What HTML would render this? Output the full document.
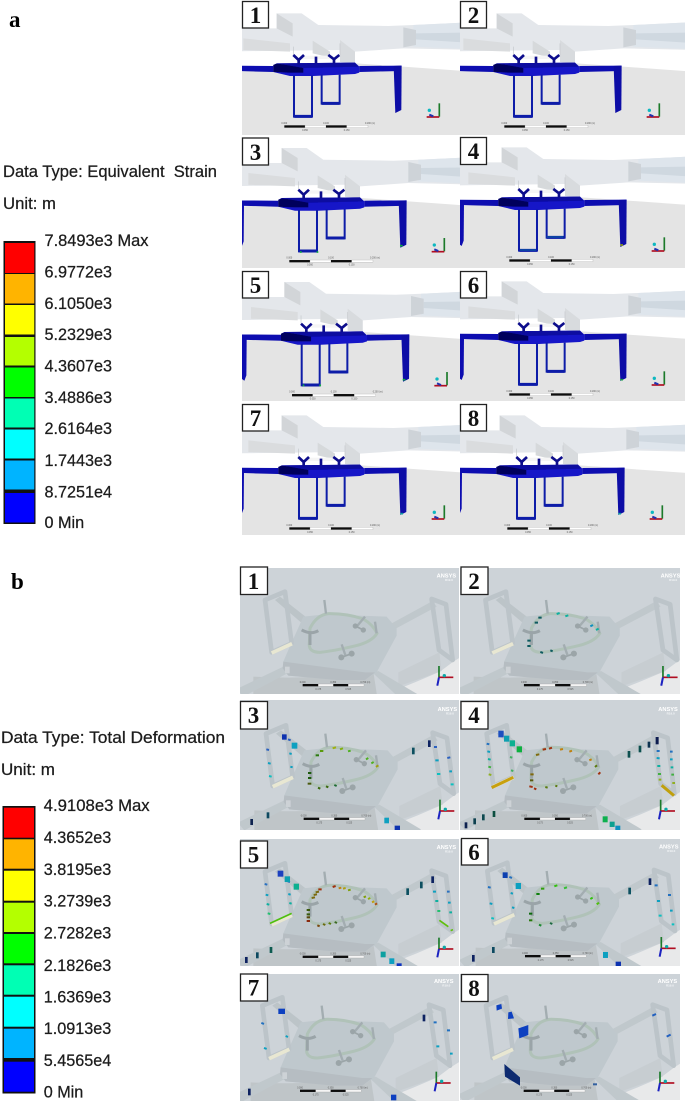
<!DOCTYPE html>
<html lang="en">
<head>
<meta charset="utf-8">
<title>Equivalent strain and total deformation panels</title>
<style>
html,body{margin:0;padding:0;background:#fff;}
svg{display:block;}
.lab{font-family:"Liberation Sans",sans-serif;font-size:16.2px;fill:#1c1c1c;stroke:#1c1c1c;stroke-width:.25px;}
.tag{font-family:"Liberation Serif",serif;font-size:23px;font-weight:bold;fill:#111;text-anchor:middle;}
.sec{font-family:"Liberation Serif",serif;font-size:23px;font-weight:bold;fill:#000;}
.sb{font-family:"Liberation Sans",sans-serif;font-size:7px;fill:#555;text-anchor:middle;}
.an{font-family:"Liberation Sans",sans-serif;font-size:17px;font-weight:bold;fill:#fff;}
.an2{font-family:"Liberation Sans",sans-serif;font-size:9px;font-weight:bold;fill:#f4f6f8;}
.box{fill:#fff;stroke:#222;stroke-width:1.3;}
.m{stroke-width:6;}
.m path{fill:none;}
.m rect,.m polygon{stroke:none;}
</style>
</head>
<body>
<svg id="figure" width="685" height="1103" viewBox="0 0 685 1103" xmlns="http://www.w3.org/2000/svg">
<defs>
<filter id="soft" x="-5%" y="-5%" width="110%" height="110%"><feGaussianBlur stdDeviation="1"/></filter>

<g id="a-base">
  <rect x="-100" y="-20" width="900" height="520" fill="#fff"/>
  <polygon points="-100,222 350,190 800,222 800,520 -100,520" fill="#e4e4e4"/>
  <polygon points="-100,85 110,85 110,40 185,40 235,75 445,78 520,75 800,62 800,152 490,145 345,155 345,190 300,186 300,150 -100,155" fill="#e4e7eb"/>
  <polygon points="110,40 158,70 158,110 110,85" fill="#d2d5d8"/>
  <polygon points="10,115 150,130 150,155 10,150" fill="#dadcde"/>
  <polygon points="218,122 270,155 270,172 218,160" fill="#d6d9db"/>
  <polygon points="300,120 345,155 345,190 300,186" fill="#d8dbde"/>
  <polygon points="520,75 800,62 800,152 520,140" fill="#dee5ec"/>
  <polygon points="528,100 800,96 800,136 528,118" fill="#cfd8e0"/>
  <polygon points="490,82 528,90 528,135 490,142" fill="#ced3d8"/>
  <path d="M160 140V165M300 130V165" stroke="#c4c8cb" stroke-width="2"/>
  <rect x="180" y="167" width="90" height="10" fill="#f5f5f5"/>
  <polygon points="-60,197 100,198 100,216 -60,212" fill="#0a0ab0"/>
  <polygon points="358,198 484,197 484,213 358,216" fill="#0a0ab0"/>
  <polygon points="461,198 485,197 484,330 466,339" fill="#0a0aa6"/>
  <polygon points="-18,198 -3,204 -4,320 -10,336 -18,330" fill="#0a0ab0"/>
  <polygon points="100,195 110,190 345,188 358,200 358,218 345,222 220,228 150,228 100,216" fill="#1212c8"/>
  <polygon points="100,195 110,191 190,200 190,218 150,218 100,216" fill="#05055c"/>
  <polygon points="110,190 345,188 355,200 190,204" fill="#0a0aa0"/>
  <path d="M162 226V350H216V226M245 224V311H299V224" fill="none" stroke="#0c1ca8" stroke-width="6"/>
  <path d="M163 349H216M245 310H299" fill="none" stroke="#0c1ca8" stroke-width="9"/>
  <path d="M160 165L176 180L192 165M176 180V193M265 165L282 178L298 165M282 178V190M228 170V190" fill="none" stroke="#10108c" stroke-width="8"/>
  <g>
    <rect x="133" y="376" width="62" height="7" fill="#111"/>
    <rect x="195" y="376" width="63" height="7" fill="#fff" stroke="#999" stroke-width=".8"/>
    <rect x="258" y="376" width="62" height="7" fill="#111"/>
    <rect x="320" y="376" width="64" height="7" fill="#fff" stroke="#999" stroke-width=".8"/>
    <text class="sb" x="133" y="372">0.000</text><text class="sb" x="258" y="372">0.100</text><text class="sb" x="390" y="372">0.200 (m)</text>
    <text class="sb" x="195" y="393">0.050</text><text class="sb" x="320" y="393">0.150</text>
  </g>
  <g>
    <path d="M598 350V310" stroke="#1a7a2a" stroke-width="5"/>
    <path d="M598 351H560" stroke="#b01020" stroke-width="5"/>
    <path d="M580 349L568 344" stroke="#2030b0" stroke-width="6"/>
    <circle cx="568" cy="331" r="5" fill="#10b8c0"/>
  </g>
</g>

<g id="b-base">
  <rect x="-60" y="-30" width="800" height="480" fill="#cdd3d8"/>
  <polygon points="720,240 640,290 600,320 530,350 480,370 480,450 720,450" fill="#e8e9ea"/>
  <polygon points="475,322 598,262 605,318 475,364" fill="#c7cdd1"/>
  <path d="M40 335Q230 345 400 320L420 450H40Z" fill="#bfc5c8"/>
  <polygon points="-10,372 130,305 142,325 10,395" fill="#c0c8cc"/>
  <polygon points="400,325 415,318 540,392 500,420" fill="#c0c8cc"/>
  <polygon points="105,105 120,95 203,160 190,178" fill="#bcc4c8"/>
  <polygon points="455,175 578,108 590,125 465,192" fill="#c0c8cc"/>
  <polygon points="190,155 255,148 440,155 470,190 470,212 410,322 375,345 290,345 145,332 128,310 130,290 145,255" fill="#bfc8cd"/>
  <polygon points="130,290 375,322 405,322 375,345 290,345 145,332 128,310" fill="#b6bdc2"/>
  <rect x="135" y="305" width="14" height="20" fill="#cdd2d6"/>
  <path d="M75 105L135 80L155 235L95 262Z" fill="none" stroke="#bcc4c9" stroke-width="14" stroke-linejoin="round"/>
  <path d="M95 264L156 236" stroke="#e8e7d2" stroke-width="11"/>
  <path d="M575 102L618 118L638 285L597 255Z" fill="none" stroke="#bcc4c9" stroke-width="14" stroke-linejoin="round"/>
  <path d="M210 190Q230 150 265 146Q320 145 370 162Q400 180 411 205Q395 232 340 244Q280 258 240 262Q205 262 208 235Z" fill="none" stroke="#b0c2b8" stroke-width="9"/>
  <path d="M253 105L258 146M405 170L410 205M375 155L350 185M305 238L316 270" fill="none" stroke="#a3adb1" stroke-width="7"/>
  <path d="M185 195Q212 210 235 197M210 203V240" fill="none" stroke="#9aa4a8" stroke-width="9"/>
  <g fill="#9ba5a8"><circle cx="346" cy="183" r="8"/><circle cx="370" cy="195" r="8"/><circle cx="304" cy="277" r="9"/><circle cx="335" cy="266" r="9"/></g>
  <path d="M346 183L370 195M304 277L335 266" stroke="#9ba5a8" stroke-width="5"/>
  <text class="an" x="590" y="37">ANSYS</text><text class="an2" x="615" y="48">R19.0</text>
  <g>
    <rect x="188" y="357" width="47" height="7" fill="#111"/>
    <rect x="235" y="357" width="45" height="7" fill="#f4f4f4" stroke="#999" stroke-width=".8"/>
    <rect x="280" y="357" width="45" height="7" fill="#111"/>
    <rect x="325" y="357" width="47" height="7" fill="#f4f4f4" stroke="#999" stroke-width=".8"/>
    <text class="sb" x="188" y="354">0.000</text><text class="sb" x="280" y="354">0.350</text><text class="sb" x="376" y="354">0.700 (m)</text>
    <text class="sb" x="235" y="375">0.175</text><text class="sb" x="325" y="375">0.525</text>
  </g>
  <g>
    <path d="M597 337V303" stroke="#1a7a2a" stroke-width="5"/>
    <path d="M597 337H640" stroke="#b01020" stroke-width="5"/>
    <path d="M597 337L592 362" stroke="#1a20c0" stroke-width="6"/>
    <circle cx="613" cy="332" r="5" fill="#10a8a8"/>
  </g>
</g>
</defs>

<rect width="685" height="1103" fill="#fff"/>

<!-- Section a -->
<text class="sec" x="9" y="27">a</text>
<text class="lab" x="3" y="177" textLength="214" lengthAdjust="spacingAndGlyphs">Data Type: Equivalent&#160;&#160;Strain</text>
<text class="lab" x="3" y="209" textLength="53" lengthAdjust="spacingAndGlyphs">Unit: m</text>
<g>
  <rect x="3.5" y="241" width="32" height="283" fill="#111"/>
  <rect x="5" y="243" width="29.3" height="30" fill="#ff0000"/>
  <rect x="5" y="274" width="29.3" height="29.5" fill="#ffb400"/>
  <rect x="5" y="305" width="29.3" height="29.5" fill="#ffff00"/>
  <rect x="5" y="337" width="29.3" height="28.5" fill="#b4ff00"/>
  <rect x="5" y="367.5" width="29.3" height="29.5" fill="#00ff00"/>
  <rect x="5" y="398.5" width="29.3" height="29" fill="#00ffb4"/>
  <rect x="5" y="429.5" width="29.3" height="29" fill="#00ffff"/>
  <rect x="5" y="460.5" width="29.3" height="29" fill="#00b4ff"/>
  <rect x="5" y="493" width="29.3" height="29.5" fill="#0000ff"/>
  <g>
    <text class="lab" x="44.5" y="246" textLength="104" lengthAdjust="spacingAndGlyphs">7.8493e3 Max</text>
    <text class="lab" x="44.5" y="277.5">6.9772e3</text>
    <text class="lab" x="44.5" y="309">6.1050e3</text>
    <text class="lab" x="44.5" y="340">5.2329e3</text>
    <text class="lab" x="44.5" y="371.5">4.3607e3</text>
    <text class="lab" x="44.5" y="403">3.4886e3</text>
    <text class="lab" x="44.5" y="434">2.6164e3</text>
    <text class="lab" x="44.5" y="466">1.7443e3</text>
    <text class="lab" x="44.5" y="497.5">8.7251e4</text>
    <text class="lab" x="44.5" y="528">0 Min</text>
  </g>
</g>

<g>
  <svg x="242" y="0" width="218" height="135"><g transform="translate(-2,0) scale(.3333)" filter="url(#soft)"><use href="#a-base"/></g></svg>
  <svg x="460" y="0" width="225" height="135"><g transform="translate(0,0) scale(.3333)" filter="url(#soft)"><use href="#a-base"/></g></svg>
  <svg x="242" y="137" width="218" height="131"><g transform="translate(3,-2.3) scale(.3333)" filter="url(#soft)"><use href="#a-base"/><path d="M465 333h8M165 352h5M215 352h5" stroke="#10b040" stroke-width="5"/></g></svg>
  <svg x="460" y="137" width="225" height="131"><g transform="translate(5,-3) scale(.3333)" filter="url(#soft)"><use href="#a-base"/><path d="M466 333h8" stroke="#90a010" stroke-width="5"/><path d="M165 348h48M245 309h50" stroke="#1068a0" stroke-width="3"/></g></svg>
  <svg x="242" y="270" width="218" height="131"><g transform="translate(5.7,-1.3) scale(.3333)" filter="url(#soft)"><use href="#a-base"/><path d="M465 333h8M165 350h5M215 350h5" stroke="#10b040" stroke-width="5"/></g></svg>
  <svg x="460" y="270" width="225" height="131"><g transform="translate(5,-2) scale(.3333)" filter="url(#soft)"><use href="#a-base"/><path d="M466 335h8" stroke="#10a040" stroke-width="5"/></g></svg>
  <svg x="242" y="403" width="218" height="132"><g transform="translate(3,-1) scale(.3333)" filter="url(#soft)"><use href="#a-base"/><path d="M466 335h8" stroke="#10a0a0" stroke-width="5"/></g></svg>
  <svg x="460" y="403" width="225" height="132"><g transform="translate(3,-1) scale(.3333)" filter="url(#soft)"><use href="#a-base"/><path d="M466 335h8" stroke="#10a0a0" stroke-width="5"/></g></svg>
</g>

<!-- Section b -->
<text class="sec" x="11" y="589">b</text>
<text class="lab" x="1" y="743" textLength="224" lengthAdjust="spacingAndGlyphs">Data Type: Total Deformation</text>
<text class="lab" x="1" y="775" textLength="54" lengthAdjust="spacingAndGlyphs">Unit: m</text>
<g>
  <rect x="2.5" y="806" width="33" height="287.5" fill="#111"/>
  <rect x="4" y="807.7" width="30" height="30" fill="#ff0000"/>
  <rect x="4" y="839.3" width="30" height="29.4" fill="#ffb400"/>
  <rect x="4" y="870.7" width="30" height="30" fill="#ffff00"/>
  <rect x="4" y="902.7" width="30" height="29.3" fill="#b4ff00"/>
  <rect x="4" y="934" width="30" height="29.3" fill="#00ff00"/>
  <rect x="4" y="965.3" width="30" height="29.4" fill="#00ffb4"/>
  <rect x="4" y="996.7" width="30" height="30" fill="#00ffff"/>
  <rect x="4" y="1028.7" width="30" height="29.3" fill="#00b4ff"/>
  <rect x="4" y="1061.7" width="30" height="30" fill="#0000ff"/>
  <g>
    <text class="lab" x="43.7" y="811" textLength="106" lengthAdjust="spacingAndGlyphs">4.9108e3 Max</text>
    <text class="lab" x="43.7" y="843">4.3652e3</text>
    <text class="lab" x="43.7" y="875">3.8195e3</text>
    <text class="lab" x="43.7" y="906.5">3.2739e3</text>
    <text class="lab" x="43.7" y="938.5">2.7282e3</text>
    <text class="lab" x="43.7" y="971">2.1826e3</text>
    <text class="lab" x="43.7" y="1002.5">1.6369e3</text>
    <text class="lab" x="43.7" y="1034">1.0913e3</text>
    <text class="lab" x="43.7" y="1066">5.4565e4</text>
    <text class="lab" x="43.7" y="1097.5">0 Min</text>
  </g>
</g>

<g>
  <svg x="240" y="568" width="219" height="126"><g transform="translate(0,-3) scale(.3333)" filter="url(#soft)"><use href="#b-base"/></g></svg>

  <svg x="460" y="568" width="220" height="126"><g transform="translate(0,-3) scale(.3333)" filter="url(#soft)"><use href="#b-base" transform="scale(1.02,1)"/>
    <g class="m">
      <path stroke="#0a5a60" d="M235 158h10M224 173h10M202 227h10M202 243h10M241 261l8 3M271 256l7 3"/>
      <path stroke="#10b0a0" d="M290 147l9-3M316 154l9-3M408 195l8-4"/>
      <path stroke="#1090c0" d="M391 184l8-4"/>
    </g></g></svg>

  <svg x="240" y="700" width="219" height="130"><g transform="translate(0,-3) scale(.3333)" filter="url(#soft)"><use href="#b-base" x="3" y="5"/>
    <g class="m">
      <path stroke="#5a9a10" d="M240 162h10"/><path stroke="#2a7a10" d="M227 175h10"/><path stroke="#a0b010" d="M278 154l10-3"/><path stroke="#80b010" d="M300 157l9-3"/><path stroke="#50b020" d="M324 163l8-2M378 187l7-4M394 199l7-4"/><path stroke="#a0a010" d="M408 210l7-5"/>
      <path stroke="#1a5a10" d="M204 228h10M204 243h10"/><path stroke="#4a5a10" d="M203 260h11"/><path stroke="#3a6a10" d="M234 272l7 3M258 268l7 3"/><path stroke="#1a6a30" d="M283 264l7 3"/>
      <path stroke="#2a60c0" d="M79 157l8 2M144 127l8 3M582 150h9M622 183l9-2"/><path stroke="#10a0c0" d="M84 198l8 2M148 169l7 2M151 209l7 2M586 190h10M628 223h8"/><path stroke="#10c0c0" d="M87 237l8 2M591 231h10M632 262h9"/>
      <rect x="126" y="112" width="14" height="16" fill="#0a30b0"/><rect x="155" y="137" width="17" height="18" fill="#10a0c0"/>
      <rect x="516" y="152" width="8" height="20" fill="#0a5060"/><rect x="564" y="130" width="8" height="20" fill="#0a2060"/><rect x="31" y="366" width="8" height="18" fill="#0a2050"/><rect x="80" y="346" width="8" height="18" fill="#0a4a60"/><rect x="433" y="362" width="14" height="17" fill="#10a0c0"/><rect x="464" y="386" width="16" height="14" fill="#0a30b0"/>
    </g></g></svg>

  <svg x="460" y="700" width="220" height="130"><g transform="translate(0,-3) scale(.3333)" filter="url(#soft)"><use href="#b-base" x="5" y="5"/>
    <g class="m">
      <path stroke="#c8a010" d="M95 272L160 241" stroke-width="9"/><path stroke="#c0a010" d="M605 265L642 296" stroke-width="9"/>
      <path stroke="#a03010" d="M248 158l10-2M267 155l9-3M415 232l6-6"/><path stroke="#c08010" d="M300 158l9-2M328 164l8-3M388 190l7-3"/><path stroke="#806a10" d="M228 174l10-2M211 232h10"/><path stroke="#5a5a10" d="M210 250h10"/><path stroke="#a03010" d="M208 268l10 2M222 274l7 3"/><path stroke="#5a7a10" d="M256 270l7 2M286 266l6 2M405 210l6-5"/>
      <path stroke="#2070c0" d="M80 140l8 2M590 162h9M630 164h8"/><path stroke="#10a0c0" d="M82 163l8 2M590 183l9 1M630 187h8"/><path stroke="#10b0a0" d="M84 186l8 2M592 207h9M632 211h8"/><path stroke="#40b040" d="M85 209l8 2M594 231h9M634 233h8"/><path stroke="#90b020" d="M86 232l8 2M596 248h8M637 258h8"/><path stroke="#40b060" d="M150 180l7 2M153 220l7 2"/>
      <rect x="115" y="101" width="16" height="20" fill="#1a50c0"/><rect x="132" y="116" width="16" height="18" fill="#10a0b0"/><rect x="149" y="130" width="16" height="18" fill="#10b090"/><rect x="170" y="148" width="16" height="18" fill="#10b040"/>
      <rect x="503" y="162" width="8" height="20" fill="#0a5050"/><rect x="536" y="146" width="8" height="20" fill="#0a5050"/><rect x="563" y="134" width="8" height="18" fill="#0a3050"/><rect x="587" y="120" width="9" height="22" fill="#0a1a50"/>
      <rect x="14" y="376" width="8" height="18" fill="#0a2050"/><rect x="40" y="364" width="8" height="18" fill="#0a4050"/><rect x="66" y="352" width="8" height="18" fill="#0a4a50"/><rect x="98" y="342" width="8" height="18" fill="#0a5040"/>
      <rect x="428" y="358" width="15" height="18" fill="#10b050"/><rect x="449" y="374" width="15" height="16" fill="#10a090"/><rect x="466" y="386" width="15" height="14" fill="#1090c0"/>
    </g></g></svg>

  <svg x="240" y="839" width="219" height="127"><g transform="translate(0,-4) scale(.3333)" filter="url(#soft)"><use href="#b-base" y="5"/>
    <g class="m">
      <path stroke="#50c010" d="M90 265L155 235" stroke-width="5"/><path stroke="#60c010" d="M598 256L625 275M632 287l7-3" stroke-width="5"/>
      <path stroke="#a03010" d="M235 163h10M278 156l9-3"/><path stroke="#7a6a10" d="M227 172l10-2M221 180l10-2M215 189l10-2"/><path stroke="#c08010" d="M296 160l8-2"/><path stroke="#b0a010" d="M309 161l8-2"/><path stroke="#80a010" d="M324 166l8-2M371 187l7-3"/><path stroke="#90b010" d="M384 192l7-3"/><path stroke="#c0a010" d="M396 202l7-3"/><path stroke="#b05010" d="M405 209l6-4"/>
      <path stroke="#3a5a10" d="M200 225h10M200 238h10"/><path stroke="#5a4a10" d="M200 247h10"/><path stroke="#8a2a10" d="M200 258h10"/><path stroke="#7a4a10" d="M232 271l7 3"/><path stroke="#6a6a10" d="M249 267l7 3"/><path stroke="#5a7a10" d="M266 264l7 3"/><path stroke="#3a6a20" d="M284 261l7 3"/>
      <path stroke="#2a70c0" d="M74 147l8 2M143 139l7 2M621 170h8"/><path stroke="#10a0c0" d="M77 179l8 2M145 177l7 2M579 170h9M624 203h8"/><path stroke="#10b0a0" d="M80 207l8 2M148 204l7 2M586 198h9M628 232h8"/><path stroke="#20c070" d="M83 235l8 2M592 228h9"/>
      <rect x="113" y="107" width="17" height="18" fill="#1a40c0"/><rect x="134" y="124" width="16" height="17" fill="#10a0b0"/><rect x="161" y="146" width="16" height="18" fill="#10b090"/>
      <rect x="499" y="160" width="8" height="20" fill="#0a5060"/><rect x="540" y="140" width="8" height="20" fill="#0a5060"/><rect x="574" y="124" width="8" height="20" fill="#0a2060"/>
      <rect x="15" y="366" width="8" height="18" fill="#0a2060"/><rect x="48" y="352" width="8" height="18" fill="#0a4a60"/><rect x="89" y="336" width="8" height="18" fill="#0a5a50"/>
      <rect x="422" y="350" width="15" height="17" fill="#10a0a0"/><rect x="448" y="370" width="15" height="17" fill="#10a0c0"/><rect x="470" y="385" width="15" height="12" fill="#1030c0"/>
    </g></g></svg>

  <svg x="460" y="839" width="220" height="127"><g transform="translate(0,-4) scale(.3333)" filter="url(#soft)"><use href="#b-base" x="7" y="3"/>
    <g class="m">
      <path stroke="#30a010" d="M243 161h10"/><path stroke="#108010" d="M229 177h10"/><path stroke="#30c010" d="M283 154l9-3M391 192l7-4"/><path stroke="#30c030" d="M312 160l9-3"/><path stroke="#50c010" d="M410 208l7-5"/>
      <path stroke="#0a6a10" d="M207 236h10"/><path stroke="#2a7a10" d="M207 256h10"/><path stroke="#1a8a30" d="M237 269l7 3"/><path stroke="#1a6a40" d="M270 264l7 3"/>
      <path stroke="#2070c0" d="M84 156l8 2M148 126l8 3M584 151h9M624 180h9"/><path stroke="#10a0c0" d="M89 205l8 2M152 174l7 2M156 217l7 2M591 198h9M630 227h8"/><path stroke="#10c0c0" d="M94 249l8 2M596 242h9M635 268h8"/>
      <rect x="128" y="112" width="15" height="17" fill="#1040b0"/><rect x="167" y="144" width="16" height="18" fill="#10a0c0"/>
      <rect x="505" y="158" width="8" height="20" fill="#0a5060"/><rect x="566" y="130" width="8" height="20" fill="#0a2060"/><rect x="36" y="360" width="8" height="20" fill="#0a2060"/><rect x="96" y="336" width="8" height="18" fill="#0a4a60"/>
      <rect x="429" y="351" width="15" height="18" fill="#10a0c0"/><rect x="467" y="380" width="16" height="14" fill="#1030b0"/>
    </g></g></svg>

  <svg x="240" y="974" width="219" height="127"><g transform="translate(0,-6) scale(.3333)" filter="url(#soft)"><use href="#b-base" x="-8" y="8"/>
    <g class="m">
      <path stroke="#2070c0" d="M64 165l8 3M581 163h9M621 187h9"/><path stroke="#10a0c0" d="M72 240l8 3M137 204l7 3M589 235h9M630 257h8"/>
      <rect x="115" y="122" width="20" height="16" fill="#1040c0"/><rect x="548" y="140" width="8" height="20" fill="#0a2060"/><rect x="24" y="362" width="8" height="20" fill="#0a2060"/><rect x="453" y="380" width="16" height="17" fill="#1040c0"/>
    </g></g></svg>

  <svg x="460" y="974" width="220" height="126"><g transform="translate(0,-4) scale(.3333)" filter="url(#soft)"><use href="#b-base" x="3" y="2"/>
    <g class="m">
      <polygon points="133,282 180,322 180,347 135,320" fill="#0a2a70"/>
      <polygon points="175,175 205,165 205,195 178,205" fill="#1040c0"/>
      <polygon points="109,106 124,102 126,116 110,122" fill="#1040c0"/>
      <polygon points="145,127 155,125 162,145 144,147" fill="#1040c0"/>
      <path stroke="#2060c0" d="M577 137l11-5M620 200l12-6"/><path stroke="#3060a0" d="M399 343h12"/>
    </g></g></svg>
</g>

<!-- Panel number tags -->
<g>
  <rect class="box" x="242.5" y="1.5" width="26" height="26.5"/><text class="tag" x="255.5" y="23">1</text>
  <rect class="box" x="460.5" y="1.5" width="26" height="26.5"/><text class="tag" x="473.5" y="23">2</text>
  <rect class="box" x="242.5" y="138" width="26" height="27"/><text class="tag" x="255.5" y="160">3</text>
  <rect class="box" x="460.5" y="137.5" width="26" height="27"/><text class="tag" x="473.5" y="159">4</text>
  <rect class="box" x="242.5" y="271.5" width="26" height="26.5"/><text class="tag" x="255.5" y="293">5</text>
  <rect class="box" x="460.5" y="271.5" width="26" height="26.5"/><text class="tag" x="473.5" y="293">6</text>
  <rect class="box" x="242.5" y="404.5" width="26" height="26.5"/><text class="tag" x="255.5" y="426">7</text>
  <rect class="box" x="460.5" y="404.5" width="26" height="26.5"/><text class="tag" x="473.5" y="426">8</text>
</g>
<g>
  <rect class="box" x="240.5" y="567" width="27" height="27.5"/><text class="tag" x="253.5" y="589">1</text>
  <rect class="box" x="461" y="567" width="27" height="27.5"/><text class="tag" x="474" y="589">2</text>
  <rect class="box" x="240.5" y="701.5" width="27" height="27.5"/><text class="tag" x="253.5" y="723">3</text>
  <rect class="box" x="461" y="701.5" width="27" height="27.5"/><text class="tag" x="474" y="723">4</text>
  <rect class="box" x="240.5" y="841" width="27" height="27"/><text class="tag" x="253.5" y="862.5">5</text>
  <rect class="box" x="461.5" y="838.5" width="26.5" height="26.5"/><text class="tag" x="474" y="860">6</text>
  <rect class="box" x="240.5" y="974" width="27" height="27"/><text class="tag" x="253.5" y="995.5">7</text>
  <rect class="box" x="461.5" y="974.5" width="26.5" height="27"/><text class="tag" x="474" y="996">8</text>
</g>
</svg>
</body>
</html>
